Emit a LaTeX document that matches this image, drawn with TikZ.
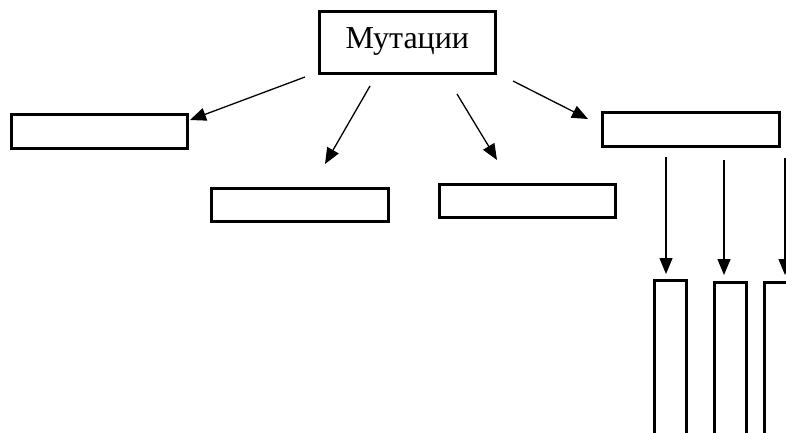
\documentclass[tikz,border=0pt]{standalone}
\usepackage{fontspec}
\setmainfont{Liberation Serif}
\usetikzlibrary{arrows.meta}
\begin{document}
\begin{tikzpicture}[x=1pt,y=-1pt,
  box/.style={draw,line width=2.6pt,inner sep=0pt,anchor=north west},
  link/.style={line width=1.3pt,-{Triangle[length=16pt,width=13pt]}}]
\useasboundingbox (0,0) rectangle (786,432);
\clip (0,0) rectangle (786,432);
% root box
\node[box,minimum width=176pt,minimum height=62pt] (mut) at (318,10) {};
\node[font=\fontsize{32}{38}\selectfont] (mutlbl) at ([yshift=1pt]mut.center) {Мутации};
% first-level boxes
\node[box,minimum width=176pt,minimum height=34pt] (b1) at (10,113) {};
\node[box,minimum width=177pt,minimum height=33pt] (b2) at (210,187) {};
\node[box,minimum width=176pt,minimum height=33pt] (b3) at (438,183) {};
\node[box,minimum width=177pt,minimum height=34pt] (b4) at (601,111) {};
% second-level boxes under the right box
\node[box,minimum width=32pt,minimum height=180pt] (c1) at (653,279) {};
\node[box,minimum width=32pt,minimum height=180pt] (c2) at (713,281) {};
\node[box,minimum width=40pt,minimum height=180pt] (c3) at (763,281) {};
% arrow ends
\coordinate (s1) at (305,77);  \coordinate (t1) at (190,120);
\coordinate (s2) at (370,86);  \coordinate (t2) at (325,164);
\coordinate (s3) at (457,94);  \coordinate (t3) at (497,160);
\coordinate (s4) at (513,81);  \coordinate (t4) at (588,119);
\coordinate (s5) at (666,157); \coordinate (t5) at (666,274);
\coordinate (s6) at (724,160); \coordinate (t6) at (724,275);
\coordinate (s7) at (785,158); \coordinate (t7) at (785,275);
\foreach \i in {1,...,7} \draw[link] (s\i) -- (t\i);
\end{tikzpicture}
\end{document}
